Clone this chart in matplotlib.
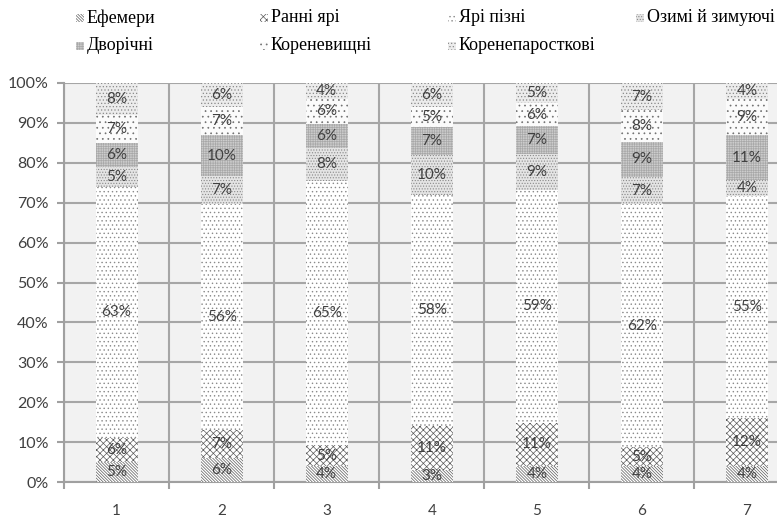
import matplotlib
matplotlib.use("Agg")
import matplotlib.pyplot as plt
from matplotlib.patches import Rectangle
import numpy as np

categories = ["1", "2", "3", "4", "5", "6", "7"]
series_names = ["Ефемери", "Ранні ярі", "Ярі пізні", "Озимі й зимуючі",
                "Дворічні", "Кореневищні", "Коренепаросткові"]
efemery = [5, 6, 4, 3, 4, 4, 4]
ranni_yari = [6, 7, 5, 11, 11, 5, 12]
yari_pizni = [63, 56, 65, 58, 59, 62, 55]
ozymi = [5, 7, 8, 10, 9, 7, 4]
dvorichni = [6, 10, 6, 7, 7, 9, 11]
korenevyshchni = [7, 7, 6, 5, 6, 8, 9]
koreneparostkovi = [8, 6, 4, 6, 5, 7, 4]
y_ticks = [0, 10, 20, 30, 40, 50, 60, 70, 80, 90, 100]

series = [efemery, ranni_yari, yari_pizni, ozymi, dvorichni, korenevyshchni, koreneparostkovi]
styles = [
    dict(face="#ffffff", hatch="\\" * 11, hc="#5a5a5a"),
    dict(face="#ffffff", hatch="xxxxx", hc="#5a5a5a"),
    dict(face="#ffffff", hatch="....", hc="#8a8a8a"),
    dict(face="#e4e4e4", hatch="......", hc="#8a8a8a"),
    dict(face="#cdcdcd", hatch="+++++++", hc="#a8a8a8"),
    dict(face="#fbfbfb", hatch="...", hc="#707070"),
    dict(face="#ececec", hatch=".....", hc="#8a8a8a"),
]

plt.rcParams["hatch.linewidth"] = 0.5

fig = plt.figure(figsize=(7.77, 5.18), dpi=100)
ax = fig.add_axes([64 / 777, 36 / 518, (799.5 - 64) / 777, (482 - 83) / 518])
ax.set_facecolor("#f2f2f2")

data = np.array(series, dtype=float)
totals = data.sum(axis=0)
heights = data / totals * 100
x = np.arange(len(categories))
bottom = np.zeros(len(categories))
for i, (vals, h) in enumerate(zip(series, heights)):
    st = styles[i]
    ax.bar(x, h, 0.4, bottom=bottom, color=st["face"], edgecolor=st["hc"],
           hatch=st["hatch"], linewidth=0, zorder=3)
    for xi, b, hh, v in zip(x, bottom, h, vals):
        ax.text(xi, b + hh / 2, f"{v}%", ha="center", va="center",
                fontsize=11, color="#404040", family="Lato", zorder=4)
    bottom = bottom + h

ax.set_xlim(-0.5, 6.5)
ax.set_ylim(0, 100)
ax.set_yticks(y_ticks)
ax.set_yticklabels([f"{t}%" for t in y_ticks], fontsize=11.5, family="Lato", color="#404040")
ax.set_xticks(np.arange(-0.5, 7.0, 1.0))
ax.set_xticklabels([])
ax.set_xticks(x, minor=True)
ax.set_xticklabels(categories, minor=True, fontsize=11, family="Lato", color="#404040")
ax.tick_params(axis="x", which="major", length=5, color="#a0a0a0", width=1.5)
ax.tick_params(axis="x", which="minor", length=0, pad=16)
ax.tick_params(axis="y", length=5, color="#a0a0a0", width=1.5, pad=6)
ax.grid(True, which="major", color="#a6a6a6", linewidth=1.5, zorder=0)
for s in ["top", "right"]:
    ax.spines[s].set_visible(False)
ax.spines["left"].set_color("#a0a0a0")
ax.spines["left"].set_linewidth(1.5)
ax.spines["bottom"].set_color("#a0a0a0")
ax.spines["bottom"].set_linewidth(1.5)

# legend (two rows, four fixed-width columns)
col_x = [80, 264, 452, 640]
row_y = [18, 46]
for i, name in enumerate(series_names):
    r, c = divmod(i, 4)
    st = styles[i]
    mx, my = col_x[c], row_y[r]
    rect = Rectangle(((mx - 4) / 777, 1 - (my + 4) / 518), 8 / 777, 8 / 518,
                     transform=fig.transFigure, facecolor=st["face"],
                     edgecolor=st["hc"], hatch=st["hatch"], linewidth=0)
    fig.add_artist(rect)
    fig.text((mx + 7) / 777, 1 - my / 518, name, ha="left", va="center",
             fontsize=13, family="Liberation Serif", color="#000000")

fig.savefig("out.png", dpi=100)
